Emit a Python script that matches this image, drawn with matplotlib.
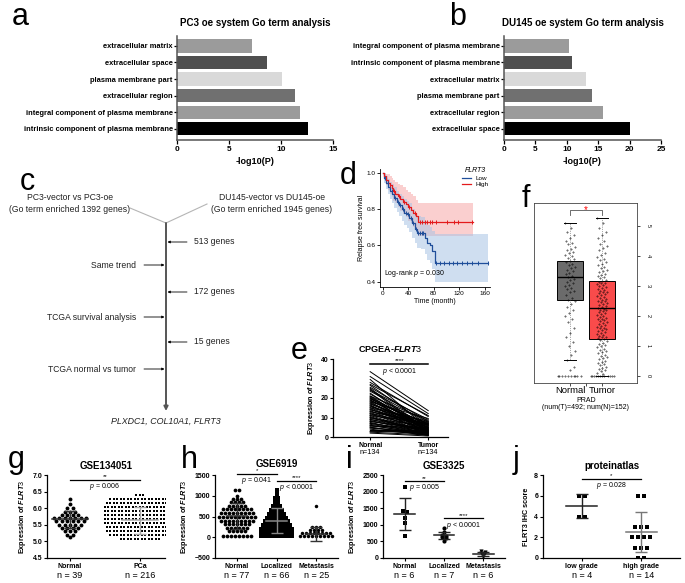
import numpy as np
import matplotlib.pyplot as plt
from matplotlib import transforms

plt.rcParams['font.family'] = ['Liberation Sans', 'DejaVu Sans']
plt.rcParams['mathtext.fontset'] = 'custom'
plt.rcParams['mathtext.rm'] = 'Liberation Sans'
plt.rcParams['mathtext.it'] = 'Liberation Sans:italic:bold'
plt.rcParams['mathtext.sf'] = 'Liberation Sans:italic'
plt.rcParams['axes.linewidth'] = 0.9

# ---------------- data ----------------
# a / b : GO terms
pc3_terms = ['extracellular matrix', 'extracellular space', 'plasma membrane part',
             'extracellular region', 'integral component of plasma membrane',
             'intrinsic component of plasma membrane']
pc3_vals = [7.2, 8.7, 10.1, 11.3, 11.8, 12.6]
du145_terms = ['integral component of plasma membrane', 'intrinsic component of plasma membrane',
               'extracellular matrix', 'plasma membrane part', 'extracellular region',
               'extracellular space']
du145_vals = [10.3, 10.8, 13.0, 14.0, 15.8, 20.0]
go_colors = ['#9b9b9b', '#4f4f4f', '#d9d9d9', '#707070', '#9b9b9b', '#000000']

# c : flow chart
flow_right = ['513 genes', '172 genes', '15 genes']
flow_left = ['Same trend', 'TCGA survival analysis', 'TCGA normal vs tumor']
flow_result = 'PLXDC1, COL10A1, FLRT3'

# d : Kaplan-Meier (relapse free survival)
high_t = [0, 2, 5, 8, 11, 14, 17, 20, 24, 28, 32, 36, 40, 44, 48, 52, 56, 142]
high_s = [1.0, 0.98, 0.96, 0.945, 0.93, 0.915, 0.9, 0.885, 0.87, 0.855, 0.84, 0.825,
          0.81, 0.795, 0.78, 0.76, 0.73, 0.73]
high_hi = [1.0, 1.0, 0.995, 0.99, 0.98, 0.97, 0.96, 0.95, 0.94, 0.93, 0.92, 0.905,
           0.895, 0.88, 0.87, 0.85, 0.83, 0.83]
high_lo = [1.0, 0.96, 0.93, 0.905, 0.885, 0.865, 0.845, 0.83, 0.81, 0.79, 0.77, 0.755,
           0.735, 0.72, 0.70, 0.68, 0.65, 0.65]
high_cens = [12, 18, 26, 34, 42, 50, 58, 62, 66, 70, 74, 78, 84, 100, 112, 118, 140]
low_t = [0, 3, 6, 9, 12, 15, 18, 22, 26, 30, 34, 38, 42, 46, 50, 54, 60, 66, 70, 74,
         78, 82, 165]
low_s = [1.0, 0.97, 0.945, 0.92, 0.9, 0.88, 0.86, 0.84, 0.82, 0.8, 0.78, 0.77, 0.75,
         0.72, 0.69, 0.67, 0.665, 0.64, 0.615, 0.6, 0.57, 0.5, 0.5]
low_hi = [1.0, 0.995, 0.98, 0.965, 0.95, 0.935, 0.92, 0.9, 0.885, 0.87, 0.855, 0.845,
          0.83, 0.8, 0.78, 0.76, 0.755, 0.735, 0.71, 0.7, 0.68, 0.66, 0.66]
low_lo = [1.0, 0.945, 0.91, 0.88, 0.855, 0.83, 0.805, 0.785, 0.76, 0.735, 0.71, 0.695,
          0.675, 0.64, 0.61, 0.585, 0.58, 0.55, 0.52, 0.5, 0.47, 0.4, 0.4]
low_cens = [4, 8, 14, 20, 24, 28, 32, 36, 40, 44, 48, 52, 56, 58, 62, 64, 84, 90, 96,
            104, 110, 116, 124, 132, 140, 150, 165]

# e : CPGEA paired normal / tumor
e_normal = [33.5, 31.0, 29.5, 28.0, 27.0, 26.5, 25.5, 25.0, 24.0, 23.5, 22.5, 22.0, 21.0,
            20.5, 20.0, 19.5, 19.0, 18.5, 18.0, 17.5, 17.0, 16.5, 16.0, 15.5, 15.0, 14.5,
            14.0, 13.5, 13.0, 12.5, 12.0, 11.5, 11.0, 10.5, 10.0, 9.5, 9.0, 8.5, 8.0, 7.5,
            7.0, 6.5, 6.0, 5.5, 5.0, 4.5, 4.0, 3.5, 3.0, 2.5, 2.0, 18.0, 15.0, 12.0, 9.0,
            21.0, 24.5, 7.0, 5.0, 3.0, 16.0, 14.0, 11.0, 8.0, 6.0, 20.0, 13.0, 10.0, 19.0,
            17.0]
e_tumor = [13.5, 12.0, 4.0, 10.5, 11.0, 6.0, 8.0, 3.0, 9.0, 7.5, 2.5, 5.5, 8.5, 4.5, 1.5,
           6.5, 3.5, 7.0, 2.0, 5.0, 6.0, 1.0, 4.0, 8.0, 3.0, 2.5, 5.0, 1.5, 6.5, 3.5, 2.0,
           4.5, 7.0, 1.0, 3.0, 5.5, 2.5, 1.5, 4.0, 0.8, 3.0, 2.0, 1.2, 5.0, 0.8, 2.5, 1.0,
           3.5, 2.0, 1.0, 0.5, 9.5, 7.5, 6.0, 4.0, 3.0, 1.8, 2.2, 1.2, 2.8, 4.0, 6.5, 2.0,
           3.5, 1.5, 5.0, 7.0, 2.5, 3.0, 4.5]

# f : GEPIA PRAD box plot
f_q1 = [2.53, 1.23]
f_med = [3.3, 2.27]
f_q3 = [3.83, 3.17]
f_whislo = [0.53, 0.0]
f_whishi = [5.1, 5.27]
f_normal_pts = [5.1, 4.95, 4.8, 4.7, 4.6, 4.5, 4.45, 4.4, 4.3, 4.25, 4.2, 4.15, 4.1, 4.05,
                4.0, 3.95, 3.9, 3.85, 3.8, 3.75, 3.7, 3.65, 3.6, 3.55, 3.5, 3.45, 3.4, 3.35,
                3.3, 3.25, 3.2, 3.15, 3.1, 3.05, 3.0, 2.95, 2.9, 2.85, 2.8, 2.7, 2.6, 2.55,
                2.5, 2.4, 2.3, 2.2, 2.1, 2.0, 1.9, 1.8, 1.6, 1.45, 1.3, 1.15, 1.0, 0.85,
                0.7, 0.53, 0.3, 0.2, 0, 0, 0, 0, 0, 0, 0, 0, 0, 0]
f_tumor_pts = [5.27, 5.1, 4.95, 4.8, 4.7, 4.6, 4.5, 4.42, 4.35, 4.28, 4.2, 4.12, 4.05, 3.98,
               3.92, 3.86, 3.8, 3.75, 3.7, 3.65, 3.6, 3.55, 3.5, 3.46, 3.42, 3.38, 3.34,
               3.3, 3.26, 3.22, 3.18, 3.15, 3.12, 3.09, 3.06, 3.03, 3.0, 2.97, 2.94, 2.91,
               2.88, 2.85, 2.82, 2.79, 2.76, 2.73, 2.7, 2.67, 2.64, 2.61, 2.58, 2.55, 2.52,
               2.49, 2.46, 2.43, 2.4, 2.37, 2.34, 2.31, 2.28, 2.25, 2.22, 2.19, 2.16, 2.13,
               2.1, 2.07, 2.04, 2.01, 1.98, 1.95, 1.92, 1.89, 1.86, 1.83, 1.8, 1.77, 1.74,
               1.71, 1.68, 1.65, 1.62, 1.59, 1.56, 1.53, 1.5, 1.47, 1.44, 1.41, 1.38, 1.35,
               1.32, 1.29, 1.26, 1.23, 1.2, 1.16, 1.12, 1.08, 1.04, 1.0, 0.96, 0.92, 0.88,
               0.84, 0.8, 0.76, 0.72, 0.68, 0.64, 0.6, 0.56, 0.52, 0.48, 0.44, 0.4, 0.36,
               0.32, 0.28, 0.24, 0.2, 0.16, 0.12, 0.08, 0, 0, 0, 0, 0, 0, 0, 0, 0, 0, 0, 0]

# g : GSE134051 (rows of equal values as drawn by the column scatter)
g_groups = ['Normal', 'PCa']
g_n = ['n = 39', 'n = 216']
g_normal_levels = [5.13, 5.2, 5.3, 5.4, 5.5, 5.6, 5.7, 5.8, 5.9, 6.0, 6.12, 6.28]
g_normal_counts = [1, 2, 3, 4, 5, 6, 7, 4, 3, 2, 1, 1]
g_pca_levels = [5.07, 5.19, 5.31, 5.43, 5.55, 5.67, 5.79, 5.91, 6.03, 6.15, 6.27, 6.40]
g_pca_counts = [12, 18, 20, 20, 21, 21, 21, 21, 21, 20, 18, 3]
g_mean = [5.66, 5.63]
g_sd = [0.25, 0.42]

# h : GSE6919
h_groups = ['Normal', 'Localized', 'Metastasis']
h_n = ['n = 77', 'n = 66', 'n = 25']
h_normal_levels = [40, 150, 230, 320, 400, 500, 580, 680, 760, 850, 930, 1000, 1150]
h_normal_counts = [8, 5, 6, 7, 9, 10, 9, 8, 5, 4, 3, 1, 2]
h_local_levels = [20, 110, 200, 290, 380, 470, 560, 650, 760, 860, 950, 1050, 1150]
h_local_counts = [9, 9, 9, 8, 7, 6, 5, 4, 3, 2, 2, 1, 1]
h_meta_levels = [30, 100, 170, 240, 760]
h_meta_counts = [9, 8, 4, 3, 1]
h_mean = [510, 400, 80]
h_sd = [320, 300, 160]

# i : GSE3325
i_groups = ['Normal', 'Localized', 'Metastasis']
i_n = ['n = 6', 'n = 7', 'n = 6']
i_normal = [2130, 1420, 1400, 1200, 1040, 660]
i_local = [900, 770, 700, 660, 640, 600, 520]
i_meta = [200, 180, 160, 140, 90, 20]
i_mean = [1320, 680, 125]
i_sd = [480, 115, 60]

# j : proteinatlas
j_groups = ['low grade', 'high grade']
j_n = ['n = 4', 'n = 14']
j_low = [6, 6, 4, 4]
j_high = [6, 6, 3, 3, 3, 2, 2, 2, 2, 1, 1, 1, 0, 0]
j_mean = [5.0, 2.5]
j_sd = [1.15, 1.95]

# ---------------- figure ----------------
W, H = 685, 583
fig = plt.figure(figsize=(W / 100, H / 100), dpi=100)


def px_axes(x0, y0, x1, y1):
    return fig.add_axes([x0 / W, 1 - y1 / H, (x1 - x0) / W, (y1 - y0) / H])


canvas = px_axes(0, 0, W, H)
canvas.set_xlim(0, W)
canvas.set_ylim(H, 0)
canvas.axis('off')

for letter, (lx, ly) in {'a': (12, 25), 'b': (449, 25), 'c': (20, 190), 'd': (340, 184),
                         'e': (291, 359), 'f': (522, 207), 'g': (8, 468), 'h': (181, 468),
                         'i': (346, 468), 'j': (513, 468)}.items():
    canvas.text(lx, ly, letter, fontsize=22, va='baseline', ha='left')


def go_panel(ax, terms, vals, xmax, title):
    y = np.arange(len(terms))
    ax.barh(y, vals, height=0.8, color=go_colors)
    ax.set_yticks(y)
    ax.set_yticklabels(terms, fontsize=5.4, fontweight='bold')
    ax.set_ylim(len(terms) - 1 + 0.68, -0.6)
    ax.set_xlim(0, xmax)
    ax.set_xticks(np.arange(0, xmax + 1, 5))
    for lab in ax.get_xticklabels():
        lab.set_fontweight('bold')
    ax.tick_params(axis='x', labelsize=6, length=3, width=0.9, pad=1.5)
    ax.tick_params(axis='y', length=2, width=0.9, pad=1)
    for s in ['top', 'right']:
        ax.spines[s].set_visible(False)
    for s in ['left', 'bottom']:
        ax.spines[s].set_color('#555555')
        ax.spines[s].set_linewidth(1.1)
    ax.set_xlabel('-log10(P)', fontsize=6.5, fontweight='bold', labelpad=3)
    ax.set_title(title, fontsize=7, fontweight='bold', pad=7)


ax_a = px_axes(177, 36, 333, 140)
go_panel(ax_a, pc3_terms, pc3_vals, 15, 'PC3 oe system Go term analysis')
ax_b = px_axes(504, 36, 661, 140)
go_panel(ax_b, du145_terms, du145_vals, 25, 'DU145 oe system Go term analysis')

# ---- c : flow chart
tc = '#222222'
canvas.text(70, 198, 'PC3-vector vs PC3-oe', fontsize=6.2, ha='center', va='center', color=tc)
canvas.text(70, 210, '(Go term enriched 1392 genes)', fontsize=6.2, ha='center', va='center', color=tc)
canvas.text(272, 198, 'DU145-vector vs DU145-oe', fontsize=6.2, ha='center', va='center', color=tc)
canvas.text(272, 210, '(Go term enriched 1945 genes)', fontsize=6.2, ha='center', va='center', color=tc)
canvas.plot([130, 166, 207], [208, 223, 204], color='#b5b5b5', lw=0.8)
canvas.annotate('', xy=(166, 411), xytext=(166, 223),
                arrowprops=dict(arrowstyle='-|>', color='#555555', lw=1.4,
                                mutation_scale=6, shrinkA=0, shrinkB=0))
for k, (rt, lt) in enumerate(zip(flow_right, flow_left)):
    yr = 242 + k * 50
    yl = 265 + k * 52
    canvas.annotate('', xy=(167.5, yr), xytext=(187, yr),
                    arrowprops=dict(arrowstyle='-|>', color='k', lw=0.6,
                                    mutation_scale=3.5, shrinkA=0, shrinkB=0))
    canvas.text(194, yr, rt, fontsize=6.2, ha='left', va='center', color=tc)
    canvas.annotate('', xy=(164.5, yl), xytext=(144, yl),
                    arrowprops=dict(arrowstyle='-|>', color='k', lw=0.6,
                                    mutation_scale=3.5, shrinkA=0, shrinkB=0))
    canvas.text(136, yl, lt, fontsize=6.2, ha='right', va='center', color=tc)
canvas.text(166, 421, flow_result, fontsize=6.4, ha='center', va='center',
            style='italic', color=tc)

# ---- d : KM curves
ax_d = px_axes(380, 169, 490, 287)
red, blue = '#e31a1c', '#1f4e9a'
ax_d.fill_between(high_t, high_lo, high_hi, step='post', color='#f7a8a8', alpha=0.55, lw=0)
ax_d.fill_between(low_t, low_lo, low_hi, step='post', color='#a8c4e4', alpha=0.55, lw=0)
ln_low, = ax_d.step(low_t, low_s, where='post', color=blue, lw=0.9, label='Low')
ln_high, = ax_d.step(high_t, high_s, where='post', color=red, lw=0.9, label='High')
for tt, ss, cens, col in [(high_t, high_s, high_cens, red), (low_t, low_s, low_cens, blue)]:
    idx = np.searchsorted(tt, cens, side='right') - 1
    ax_d.plot(cens, np.asarray(ss)[idx], ls='none', marker='|', ms=3, mew=0.7, color=col)
ax_d.set_xlim(-4, 168)
ax_d.set_ylim(0.37, 1.02)
ax_d.set_xticks([0, 40, 80, 120, 160])
ax_d.set_yticks([0.4, 0.6, 0.8, 1.0])
ax_d.set_yticklabels(['0.4', '0.6', '0.8', '1.0'])
ax_d.tick_params(labelsize=4.6, length=2, width=0.6, pad=1)
for s in ['top', 'right']:
    ax_d.spines[s].set_visible(False)
for s in ['left', 'bottom']:
    ax_d.spines[s].set_linewidth(0.6)
ax_d.set_xlabel('Time (month)', fontsize=5, labelpad=1.5)
ax_d.set_ylabel('Relapse free survival', fontsize=5, labelpad=1.5)
ax_d.text(2, 0.445, 'Log-rank $\\mathsf{p}$ = 0.030', fontsize=5, va='center')
leg = ax_d.legend(handles=[ln_low, ln_high], title='FLRT3', loc='upper right',
                  fontsize=4.6, title_fontsize=5, frameon=False, handlelength=1.3,
                  borderaxespad=0.1, labelspacing=0.15, bbox_to_anchor=(1.02, 1.04))
leg.get_title().set_fontstyle('italic')

# ---- e : paired lines
ax_e = px_axes(333, 359, 448, 437)
for nv, tv in zip(e_normal, e_tumor):
    ax_e.plot([0, 1], [nv, tv], color='k', lw=0.7)
ax_e.set_xlim(-0.64, 1.34)
ax_e.set_ylim(0, 40)
ax_e.set_yticks([0, 10, 20, 30, 40])
ax_e.set_xticks([0, 1])
ax_e.set_xticklabels(['Normal', 'Tumor'], fontsize=5, fontweight='bold')
for lab in ax_e.get_yticklabels():
    lab.set_fontweight('bold')
ax_e.tick_params(labelsize=5, length=2.5, width=0.8, pad=1)
for s in ['top', 'right']:
    ax_e.spines[s].set_visible(False)
ax_e.set_ylabel('Expression of $\\mathit{FLRT3}$', fontsize=5.2, fontweight='bold', labelpad=2)
ax_e.set_title('CPGEA-$\\mathit{FLRT3}$', fontsize=6.5, fontweight='bold', pad=5)
trans_e = transforms.blended_transform_factory(ax_e.transData, ax_e.transAxes)
for xx in [0, 1]:
    ax_e.text(xx, -0.16, 'n=134', transform=trans_e, ha='center', va='top', fontsize=5.2)
ax_e.plot([0, 1], [37.3, 37.3], color='k', lw=1.1, clip_on=False)
ax_e.text(0.5, 37.9, '****', ha='center', va='bottom', fontsize=4.5)
ax_e.text(0.5, 36.6, '$\\mathsf{p}$ < 0.0001', ha='center', va='top', fontsize=5)

# ---- f : GEPIA box plot
ax_f = px_axes(534, 203, 637, 383)
stats = [dict(med=f_med[k], q1=f_q1[k], q3=f_q3[k], whislo=f_whislo[k],
              whishi=f_whishi[k], fliers=[]) for k in range(2)]
bp = ax_f.bxp(stats, positions=[1, 2], widths=0.81, patch_artist=True, showfliers=False,
              capwidths=0.4,
              boxprops=dict(lw=0.7, edgecolor='k'),
              medianprops=dict(color='k', lw=1.0),
              whiskerprops=dict(color='#555555', lw=0.5, ls=':'),
              capprops=dict(color='k', lw=0.7))
for patch, col in zip(bp['boxes'], ['#6b6b6b', '#f94b4b']):
    patch.set_facecolor(col)
for pos, pts in [(1, f_normal_pts), (2, f_tumor_pts)]:
    pts = np.asarray(pts, float)
    spread = np.where(pts == 0, 0.4, 0.16)
    jit = ((np.arange(len(pts)) * 0.618034) % 1 - 0.5) * 2 * spread
    ax_f.plot(pos + jit, pts, ls='none', marker='o', ms=0.9, mfc='none', mec='k',
              mew=0.35, zorder=5)
ax_f.set_xlim(-0.125, 3.094)
ax_f.set_ylim(-0.23, 5.77)
ax_f.yaxis.tick_right()
ax_f.set_yticks([0, 1, 2, 3, 4, 5])
ax_f.tick_params(axis='y', labelsize=4, length=2.5, width=0.5, pad=4, labelrotation=-90)
ax_f.set_xticks([1, 1.5, 2])
ax_f.set_xticklabels(['Normal', '', 'Tumor'], fontsize=6.8)
ax_f.tick_params(axis='x', length=2, width=0.5, pad=0.5)
for s in ax_f.spines.values():
    s.set_linewidth(0.6)
    s.set_color('#444444')
ax_f.plot([1, 1, 2, 2], [5.38, 5.55, 5.55, 5.38], color='#555555', lw=0.6)
ax_f.text(1.5, 5.55, '*', color='red', ha='center', va='center', fontsize=7)
ax_f.text(1.5, -0.075, 'PRAD', transform=ax_f.get_xaxis_transform(),
          ha='center', va='top', fontsize=5)
ax_f.text(1.5, -0.115, '(num(T)=492; num(N)=152)', transform=ax_f.get_xaxis_transform(),
          ha='center', va='top', fontsize=5)


# ---- g-j : column scatter plots
def column_layout(values, binw, dx):
    values = np.asarray(values, float)
    bins = np.floor(values / binw + 1e-6).astype(int)
    xs = np.zeros(len(values))
    for b in np.unique(bins):
        idx = np.where(bins == b)[0]
        xs[idx] = (np.arange(len(idx)) - (len(idx) - 1) / 2) * dx
    return xs


def scatter_panel(ax, groups, nlabels, data, markers, binws, dxs, means, sds, ylim, yticks,
                  ylabel, title, mean_colors, sizes, title_pad=4):
    for k, vals in enumerate(data):
        xs = k + column_layout(vals, binws[k], dxs[k])
        ax.plot(xs, vals, ls='none', marker=markers[k], ms=sizes[k], color='k', mew=0, zorder=3)
        ax.plot([k - 0.26, k + 0.26], [means[k], means[k]], color=mean_colors[k], lw=1.1, zorder=4)
        ax.errorbar(k, means[k], yerr=sds[k], color=mean_colors[k], lw=1.0, capsize=4,
                    capthick=1.0, zorder=4)
    ax.set_xlim(-0.55, len(groups) - 0.45)
    ax.set_ylim(*ylim)
    ax.set_yticks(yticks)
    ax.set_xticks(range(len(groups)))
    ax.set_xticklabels(groups, fontsize=5.3, fontweight='bold')
    for lab in ax.get_yticklabels():
        lab.set_fontweight('bold')
    ax.tick_params(labelsize=5, length=2.5, width=0.8, pad=1)
    for s in ['top', 'right']:
        ax.spines[s].set_visible(False)
    ax.set_ylabel(ylabel, fontsize=5.2, fontweight='bold', labelpad=3)
    ax.set_title(title, fontsize=7, fontweight='bold', pad=title_pad)
    tr = transforms.blended_transform_factory(ax.transData, ax.transAxes)
    for k, nl in enumerate(nlabels):
        ax.text(k, -0.155, nl, transform=tr, ha='center', va='top', fontsize=6.5)


def sig_bar(ax, x0, x1, y, stars, ptxt, off):
    ax.plot([x0, x1], [y, y], color='k', lw=0.9, clip_on=False)
    ax.text((x0 + x1) / 2, y + off * 0.3, stars, ha='center', va='bottom', fontsize=4.3)
    ax.text((x0 + x1) / 2, y - off * 0.5, ptxt, ha='center', va='top', fontsize=5)


ylab = 'Expression of $\\mathit{FLRT3}$'

ax_g = px_axes(47, 475, 165, 558)
g_data = [np.repeat(g_normal_levels, g_normal_counts), np.repeat(g_pca_levels, g_pca_counts)]
scatter_panel(ax_g, g_groups, g_n, g_data, ['o', 's'], [0.001, 0.001], [0.078, 0.05],
              g_mean, g_sd, (4.5, 7.0), [4.5, 5.0, 5.5, 6.0, 6.5, 7.0], ylab, 'GSE134051',
              ['#333333', '#aaaaaa'], [2.8, 2.05])
ax_g.set_yticklabels(['4.5', '5.0', '5.5', '6.0', '6.5', '7.0'])
ax_g.set_xlim(-0.33, 1.36)
sig_bar(ax_g, 0, 1, 6.86, '**', '$\\mathsf{p}$ = 0.006', 0.08)

ax_h = px_axes(215, 475, 338, 558)
h_data = [np.repeat(h_normal_levels, h_normal_counts), np.repeat(h_local_levels, h_local_counts),
          np.repeat(h_meta_levels, h_meta_counts)]
scatter_panel(ax_h, h_groups, h_n, h_data, ['o', 's', 'o'], [1, 1, 1], [0.1, 0.1, 0.1],
              h_mean, h_sd, (-500, 1500), [-500, 0, 500, 1000, 1500], ylab, 'GSE6919',
              ['#333333', '#888888', '#333333'], [2.7, 2.2, 2.5], title_pad=6)
sig_bar(ax_h, 0, 1, 1530, '*', '$\\mathsf{p}$ = 0.041', 60)
sig_bar(ax_h, 1, 2, 1350, '****', '$\\mathsf{p}$ < 0.0001', 60)

ax_i = px_axes(383, 475, 505, 558)
scatter_panel(ax_i, i_groups, i_n, [i_normal, i_local, i_meta], ['s', 'o', 'v'], [60, 60, 60],
              [0.1, 0.1, 0.1], i_mean, i_sd, (0, 2500), [0, 500, 1000, 1500, 2000, 2500],
              ylab, 'GSE3325', ['#222222', '#222222', '#222222'], [3.0, 3.0, 3.0])
sig_bar(ax_i, 0, 1, 2310, '**', '$\\mathsf{p}$ = 0.005', 70)
sig_bar(ax_i, 1, 2, 1190, '****', '$\\mathsf{p}$ < 0.0001', 70)

ax_j = px_axes(543, 475, 680, 558)
scatter_panel(ax_j, j_groups, j_n, [j_low, j_high], ['s', 's'], [0.5, 0.5], [0.1, 0.1],
              j_mean, j_sd, (0, 8), [0, 2, 4, 6, 8], 'FLRT3 IHC score', 'proteinatlas',
              ['#222222', '#777777'], [3.0, 3.0])
ax_j.set_xlim(-0.65, 1.65)
sig_bar(ax_j, 0, 1, 7.6, '*', '$\\mathsf{p}$ = 0.028', 0.22)

fig.savefig('out.png', dpi=100)
